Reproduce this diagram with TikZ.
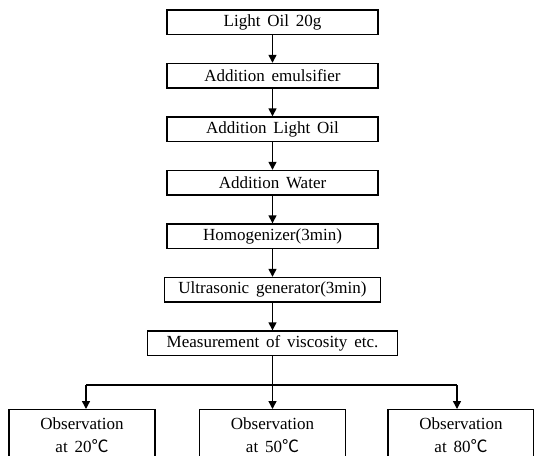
\documentclass[tikz,border=0pt]{standalone}
\usepackage{fontspec}
\setmainfont{Liberation Serif}[WordSpace=1.6]
\newfontfamily\cjk{Noto Sans CJK KR}
\usetikzlibrary{arrows.meta}
\begin{document}
\begin{tikzpicture}[x=1pt,y=-1pt,
  box/.style={draw, line width=1.4pt, minimum height=24.5pt, inner sep=0pt,
    font=\fontsize{17}{24}\selectfont},
  obsbox/.style={draw, line width=1.4pt, minimum width=146pt, minimum height=51pt,
    inner sep=0pt, anchor=north, align=center, font=\fontsize{17}{23}\selectfont},
  arr/.style={line width=1.4pt, -{Triangle[length=8pt,width=8pt]}},
  ln/.style={line width=1.4pt}]
\useasboundingbox (0,0) rectangle (534,455);
\clip (0,0) rectangle (534,455);
\node[box, minimum width=211pt] (n1) at (272.5,22.25) {Light Oil 20g};
\node[box, minimum width=211pt] (n2) at (272.5,75.75) {Addition emulsifier};
\node[box, minimum width=211pt] (n3) at (272.5,129.25) {Addition Light Oil};
\node[box, minimum width=211pt] (n4) at (272.5,182.75) {Addition Water};
\node[box, minimum width=211pt] (n5) at (272.5,236.25) {Homogenizer(3min)};
\node[box, minimum width=216pt] (n6) at (272.5,289.75) {Ultrasonic generator(3min)};
\node[box, minimum width=250pt] (n7) at (272.5,343.25) {Measurement of viscosity etc.};
\draw[arr] (n1) -- (n2);
\draw[arr] (n2) -- (n3);
\draw[arr] (n3) -- (n4);
\draw[arr] (n4) -- (n5);
\draw[arr] (n5) -- (n6);
\draw[arr] (n6) -- (n7);
\node[obsbox] (o1) at (82,409) {Observation\\at 20{\cjk ℃}};
\node[obsbox] (o2) at (272.5,409) {Observation\\at 50{\cjk ℃}};
\node[obsbox] (o3) at (461,409) {Observation\\at 80{\cjk ℃}};
\coordinate (j) at (272.5,385);
\coordinate (jl) at (86,385);
\coordinate (jr) at (457,385);
\draw[ln] (n7.south) -- (j);
\draw[ln] (jl) -- (jr);
\draw[arr] (jl) -- (o1.north -| jl);
\draw[arr] (j) -- (o2.north);
\draw[arr] (jr) -- (o3.north -| jr);
\end{tikzpicture}
\end{document}
